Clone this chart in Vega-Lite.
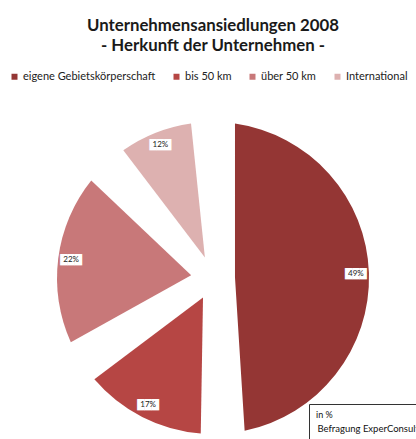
{
  "$schema": "https://vega.github.io/schema/vega-lite/v6.json",
  "width": 426,
  "height": 356,
  "autosize": {"type": "none"},
  "padding": {"left": 0, "top": 100, "right": 0, "bottom": 0},
  "background": "white",
  "title": {
    "text": ["Unternehmensansiedlungen 2008", "- Herkunft der Unternehmen -"],
    "font": "Lato",
    "fontSize": 16.8,
    "fontWeight": "bold",
    "lineHeight": 20,
    "color": "#1a1a1a",
    "anchor": "middle",
    "offset": 16
  },
  "config": {"view": {"stroke": null}},
  "layer": [
    {
      "data": {
        "values": [
          {"Herkunft": "eigene Gebietskörperschaft", "Anteil": 49, "Nr": 1},
          {"Herkunft": "bis 50 km", "Anteil": 17, "Nr": 2},
          {"Herkunft": "über 50 km", "Anteil": 22, "Nr": 3},
          {"Herkunft": "International", "Anteil": 12, "Nr": 4}
        ]
      },
      "encoding": {
        "theta": {"field": "Anteil", "type": "quantitative", "stack": true},
        "order": {"field": "Nr", "type": "quantitative"}
      },
      "layer": [
        {
          "mark": {"type": "arc", "outerRadius": 156, "innerRadius": 22, "padAngle": 0.28},
          "encoding": {
            "color": {
              "field": "Herkunft",
              "type": "nominal",
              "scale": {
                "domain": ["eigene Gebietskörperschaft", "bis 50 km", "über 50 km", "International"],
                "range": ["#943634", "#b64644", "#c87879", "#ddb1b0"]
              },
              "legend": {
                "title": null,
                "orient": "none",
                "direction": "horizontal",
                "legendX": 9,
                "legendY": -29,
                "symbolType": "square",
                "symbolSize": 36,
                "symbolStrokeWidth": 0,
                "labelFont": "Lato",
                "labelFontSize": 11,
                "labelColor": "#222222",
                "labelOffset": 3,
                "columnPadding": 15
              }
            }
          }
        },
        {
          "mark": {"type": "text", "radius": 143, "text": "███", "font": "DejaVu Sans", "fontSize": 9.5, "color": "white"}
        },
        {
          "mark": {"type": "text", "radius": 143, "font": "Lato", "fontSize": 8, "color": "#222222", "text": {"expr": "datum.Anteil + '%'"}}
        }
      ]
    },
    {
      "data": {"values": [{"Quelle": "Befragung ExperConsult"}]},
      "mark": {"type": "point", "opacity": 0},
      "encoding": {
        "shape": {
          "field": "Quelle",
          "type": "nominal",
          "legend": {
            "title": "in %",
            "orient": "none",
            "legendX": 309,
            "legendY": 304,
            "padding": 7,
            "strokeColor": "#333333",
            "fillColor": "white",
            "symbolOpacity": 0,
            "symbolSize": 0,
            "symbolStrokeWidth": 0,
            "labelOffset": -8,
            "titleFont": "Lato",
            "titleFontSize": 9,
            "titleFontWeight": "normal",
            "titleColor": "#111111",
            "titlePadding": 4,
            "labelFont": "Lato",
            "labelFontSize": 9.5,
            "labelColor": "#111111",
            "labelLimit": 300
          }
        }
      }
    }
  ]
}
